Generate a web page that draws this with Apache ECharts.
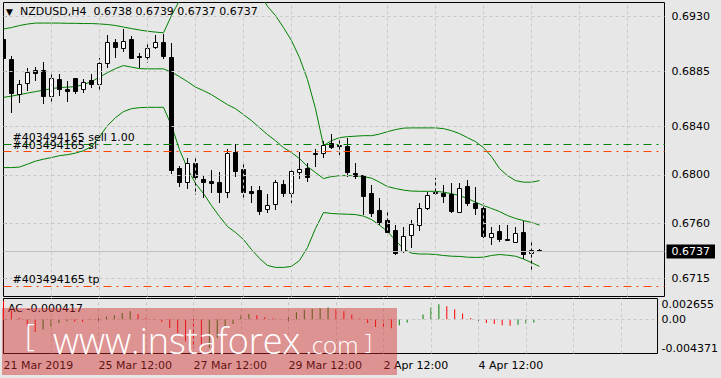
<!DOCTYPE html>
<html><head><meta charset="utf-8">
<script src="https://cdn.jsdelivr.net/npm/echarts@6/dist/echarts.min.js"></script>
<style>html,body{margin:0;padding:0;background:#e7e7e7}#c{width:721px;height:378px}</style>
</head><body><div id="c"></div><script>
// ---- data ----
const symbolName = 'NZDUSD,H4';
const lastOHLC = ['0.6738', '0.6739', '0.6737', '0.6737'];
const timeLabels = ['21 Mar 2019', '25 Mar 12:00', '27 Mar 12:00', '29 Mar 12:00', '2 Apr 12:00', '4 Apr 12:00'];
const timeLabelBars = [0, 12, 24, 36, 48, 60];
const gridBars = [6, 12, 18, 24, 30, 36, 42, 48, 54, 60, 66, 72, 78];
const priceTicks = [0.6930, 0.6885, 0.6840, 0.6800, 0.6760, 0.6715];
const priceMin = 0.6700, priceMax = 0.69415;
const barsMax = 82.625;
const bidPrice = 0.6737;
const orderTicket = '#403494165';
const orderNames = ['sell 1.00', 'sl', 'tp'];
const orderPrices = [0.68254, 0.68191, 0.67088];

const open = [
0.69110,0.68946,0.68658,0.68749,0.68856,0.68856,0.68642,0.68782,0.68699,0.68790,
0.68699,0.68773,0.68741,0.68913,0.69086,0.69036,0.69110,0.68971,0.68962,0.69045,
0.69086,0.68962,0.68051,0.67936,0.68092,0.67960,0.67944,0.67936,0.67854,0.68182,
0.68042,0.67862,0.67870,0.67714,0.67755,0.67919,0.67846,0.68018,0.68051,0.68174,
0.68174,0.68256,0.68239,0.68231,0.68010,0.67993,0.67846,0.67706,0.67624,0.67542,
0.67370,0.67501,0.67583,0.67723,0.67854,0.67846,0.67837,0.67690,0.67903,0.67764,
0.67723,0.67485,0.67534,0.67468,0.67444,0.67526,0.67354,0.67380];
const high = [
0.69119,0.68979,0.68782,0.68880,0.68888,0.68930,0.68839,0.68831,0.68773,0.68790,
0.68790,0.68831,0.68962,0.69152,0.69119,0.69201,0.69143,0.69004,0.69086,0.69152,
0.69160,0.69086,0.68075,0.68141,0.68141,0.67993,0.68042,0.68026,0.68215,0.68256,
0.68092,0.67911,0.67911,0.67846,0.67960,0.67960,0.68051,0.68190,0.68100,0.68215,
0.68280,0.68338,0.68305,0.68305,0.68100,0.67993,0.67919,0.67805,0.67714,0.67591,
0.67567,0.67632,0.67772,0.67862,0.67977,0.67919,0.67936,0.67936,0.67960,0.67903,
0.67764,0.67575,0.67591,0.67591,0.67567,0.67624,0.67460,0.67390];
const low = [
0.68839,0.68510,0.68593,0.68691,0.68773,0.68584,0.68593,0.68650,0.68601,0.68667,
0.68675,0.68716,0.68683,0.68880,0.68962,0.69012,0.68954,0.68880,0.68921,0.69036,
0.68954,0.68010,0.67903,0.67887,0.67837,0.67813,0.67854,0.67764,0.67813,0.67985,
0.67813,0.67764,0.67673,0.67690,0.67714,0.67821,0.67772,0.67969,0.67944,0.68067,
0.68141,0.68215,0.68165,0.67985,0.67969,0.67673,0.67657,0.67591,0.67518,0.67345,
0.67354,0.67395,0.67534,0.67714,0.67837,0.67764,0.67682,0.67682,0.67747,0.67673,
0.67477,0.67427,0.67444,0.67452,0.67436,0.67304,0.67206,0.67370];
const close = [
0.68954,0.68667,0.68741,0.68839,0.68831,0.68642,0.68790,0.68699,0.68683,0.68683,
0.68757,0.68741,0.68913,0.69086,0.69045,0.69094,0.68954,0.68962,0.69036,0.69086,
0.68971,0.68034,0.67936,0.68092,0.67977,0.67936,0.67928,0.67854,0.68174,0.68026,
0.67854,0.67846,0.67698,0.67747,0.67936,0.67846,0.68026,0.68042,0.67977,0.68165,
0.68239,0.68223,0.68231,0.68018,0.67985,0.67821,0.67682,0.67608,0.67526,0.67354,
0.67493,0.67591,0.67723,0.67829,0.67846,0.67821,0.67698,0.67887,0.67764,0.67723,
0.67493,0.67518,0.67468,0.67460,0.67518,0.67345,0.67380,0.67370];

const bbUpper = [
0.69198,0.69209,0.69226,0.69238,0.69246,0.69246,0.69246,0.69246,0.69244,0.69244,
0.69242,0.69242,0.69239,0.69234,0.69226,0.69213,0.69201,0.69189,0.69179,0.69172,
0.69166,0.69308,0.69431,0.69480,0.69521,0.69546,0.69571,0.69579,0.69587,0.69579,
0.69563,0.69530,0.69497,0.69382,0.69308,0.69209,0.69102,0.68962,0.68782,0.68543,
0.68239,0.68280,0.68305,0.68313,0.68317,0.68321,0.68321,0.68334,0.68354,0.68371,
0.68383,0.68385,0.68385,0.68385,0.68385,0.68379,0.68362,0.68338,0.68305,0.68272,
0.68223,0.68149,0.68051,0.67993,0.67952,0.67939,0.67939,0.67952];
const bbMiddle = [
0.68636,0.68646,0.68658,0.68671,0.68683,0.68695,0.68708,0.68716,0.68720,0.68724,
0.68741,0.68765,0.68802,0.68839,0.68872,0.68897,0.68884,0.68872,0.68870,0.68870,
0.68870,0.68843,0.68806,0.68765,0.68720,0.68691,0.68658,0.68617,0.68576,0.68543,
0.68494,0.68445,0.68387,0.68330,0.68280,0.68223,0.68182,0.68133,0.68067,0.68018,
0.67969,0.67985,0.67993,0.67993,0.67993,0.67985,0.67972,0.67939,0.67903,0.67887,
0.67874,0.67866,0.67864,0.67864,0.67864,0.67857,0.67845,0.67829,0.67805,0.67775,
0.67747,0.67723,0.67698,0.67665,0.67641,0.67624,0.67608,0.67587];
const bbLower = [
0.68059,0.68059,0.68063,0.68087,0.68112,0.68128,0.68141,0.68157,0.68165,0.68178,
0.68198,0.68231,0.68313,0.68404,0.68469,0.68519,0.68543,0.68551,0.68554,0.68554,
0.68554,0.68404,0.68206,0.68051,0.67928,0.67846,0.67747,0.67657,0.67575,0.67526,
0.67468,0.67386,0.67313,0.67255,0.67239,0.67239,0.67247,0.67296,0.67403,0.67559,
0.67690,0.67682,0.67678,0.67676,0.67673,0.67660,0.67632,0.67586,0.67534,0.67460,
0.67392,0.67356,0.67349,0.67349,0.67345,0.67337,0.67331,0.67329,0.67323,0.67321,
0.67323,0.67337,0.67345,0.67339,0.67331,0.67308,0.67278,0.67247];

const acValues = [
0.00238,0.00112,0.00017,-0.00090,-0.00163,-0.00132,-0.00090,-0.00048,-0.00026,-0.00030,
-0.00035,-0.00013,0.00013,0.00035,0.00051,0.00081,0.00103,0.00068,0.00017,-0.00009,
-0.00035,-0.00112,-0.00176,-0.00283,-0.00369,-0.004371,-0.00368,-0.00240,-0.00112,-0.00060,
0.00051,0.00068,0.00051,0.00026,0.00009,-0.00006,0.00032,0.00090,0.00122,0.00132,
0.00141,0.00150,0.00129,0.00103,0.00060,0.00009,-0.00048,-0.00099,-0.00112,-0.00116,
-0.00077,-0.00042,0.00004,0.00060,0.00150,0.00193,0.00167,0.00129,0.00073,0.00017,
-0.00013,-0.00048,-0.00060,-0.00077,-0.00084,-0.00071,-0.00055,-0.000417];
const acMin = -0.004371, acMax = 0.002655;
const acTickValues = [acMax, 0, acMin];
const acTickLabels = ['0.002655', '0.00', '-0.004371'];
const acLabel = 'AC -0.000417';

// ---- chart ----
const FONT = 'DejaVu Sans';
const NB = '\u00a0';
const chart = echarts.init(document.getElementById('c'), null, {renderer: 'svg'});

const candleData = open.map((o, i) => [i, o, high[i], low[i], close[i]]);
const bandLine = (arr) => ({
  type: 'line', xAxisIndex: 0, yAxisIndex: 0, z: 2, silent: true,
  data: arr.map((v, i) => [i, v]), showSymbol: false, symbol: 'none', clip: true,
  lineStyle: {color: '#008000', width: 1}
});
const gridLineStyle = {color: '#c8c8c8', type: [3, 3], width: 1};

const option = {
  animation: false,
  backgroundColor: '#e7e7e7',
  textStyle: {fontFamily: FONT},
  title: [
    {left: 6, top: 6, padding: 0,
     text: '{tri|▼}' + NB + NB + symbolName + NB + NB + lastOHLC.join(NB),
     textStyle: {fontSize: 11, fontWeight: 'normal', color: '#000', fontFamily: FONT,
       rich: {tri: {fontSize: 9, color: '#000', fontFamily: FONT}}}},
    {left: 8, top: 303, padding: 0, text: acLabel,
     textStyle: {fontSize: 11, fontWeight: 'normal', color: '#000', fontFamily: FONT}}
  ],
  grid: [
    {left: 3.5, top: 2.5, width: 661, height: 294, show: true, borderColor: '#000', borderWidth: 1, backgroundColor: 'transparent'},
    {left: 3.5, top: 298.5, width: 661, height: 55, show: true, borderColor: '#000', borderWidth: 1, backgroundColor: 'transparent'}
  ],
  xAxis: [
    {gridIndex: 0, type: 'value', min: 0, max: barsMax, show: false},
    {gridIndex: 1, type: 'value', min: 0, max: barsMax, position: 'bottom',
     axisLine: {show: false},
     axisTick: {show: true, length: 3, customValues: timeLabelBars, lineStyle: {color: '#000'}},
     axisLabel: {customValues: timeLabelBars, formatter: v => timeLabels[timeLabelBars.indexOf(v)] || '',
       align: 'left', margin: 6, color: '#000', fontSize: 11, fontFamily: FONT},
     splitLine: {show: false}}
  ],
  yAxis: [
    {gridIndex: 0, type: 'value', min: priceMin, max: priceMax, position: 'right',
     axisLine: {show: false},
     axisTick: {show: true, length: 3, customValues: priceTicks, lineStyle: {color: '#000'}},
     axisLabel: {customValues: priceTicks, formatter: v => v.toFixed(4), margin: 7,
       color: '#000', fontSize: 11, fontFamily: FONT},
     splitLine: {show: false}},
    {gridIndex: 0, type: 'value', min: priceMin, max: priceMax, position: 'right',
     axisLine: {show: false}, axisTick: {show: false}, splitLine: {show: false},
     axisLabel: {customValues: [bidPrice], formatter: v => v.toFixed(4), margin: 2,
       color: '#fff', backgroundColor: '#000', padding: [2, 5, 1, 5], fontSize: 11, fontFamily: FONT}},
    {gridIndex: 1, type: 'value', min: acMin, max: acMax, position: 'right',
     axisLine: {show: false},
     axisTick: {show: true, length: 3, customValues: acTickValues, lineStyle: {color: '#000'}},
     axisLabel: {customValues: acTickValues,
       formatter: v => acTickLabels[acTickValues.indexOf(v)] || '',
       margin: 4, color: '#000', fontSize: 11, fontFamily: FONT,
       verticalAlignMaxLabel: 'bottom', verticalAlignMinLabel: 'top'},
     splitLine: {show: false}}
  ],
  series: [
    // main grid lines
    {type: 'line', xAxisIndex: 0, yAxisIndex: 0, data: [], z: 1, silent: true,
     markLine: {silent: true, symbol: 'none', precision: 6, animation: false, label: {show: false},
       emphasis: {disabled: true}, lineStyle: gridLineStyle,
       data: gridBars.map(b => ({xAxis: b})).concat(priceTicks.map(p => ({yAxis: p})))}},
    // bid line
    {type: 'line', xAxisIndex: 0, yAxisIndex: 0, data: [], z: 1, silent: true,
     markLine: {silent: true, symbol: 'none', precision: 6, animation: false, label: {show: false},
       emphasis: {disabled: true}, lineStyle: {color: '#c0c0c0', type: 'solid', width: 1},
       data: [{yAxis: bidPrice}]}},
    // order lines
    {type: 'line', xAxisIndex: 0, yAxisIndex: 0, data: [], z: 2, silent: true,
     markLine: {silent: true, symbol: 'none', precision: 6, animation: false, emphasis: {disabled: true},
       label: {show: true, position: 'insideStartTop', distance: [9, 1], color: '#000',
         fontSize: 11, fontFamily: FONT},
       data: orderPrices.map((p, i) => ({
         yAxis: p,
         label: {formatter: orderTicket + ' ' + orderNames[i]},
         lineStyle: {color: i === 0 ? '#008000' : '#ff4500', type: [8, 5, 2, 5], width: 1}
       }))}},
    bandLine(bbUpper),
    bandLine(bbMiddle),
    bandLine(bbLower),
    // candles
    {type: 'custom', xAxisIndex: 0, yAxisIndex: 0, z: 3, silent: true, clip: true,
     data: candleData, encode: {x: 0, y: [1, 2, 3, 4]},
     renderItem: function (params, api) {
       const x = api.value(0), o = api.value(1), h = api.value(2), l = api.value(3), c = api.value(4);
       const pO = api.coord([x, o]), pC = api.coord([x, c]);
       const pH = api.coord([x, h]), pL = api.coord([x, l]);
       const cx = Math.round(pO[0] - 0.5) + 0.5;
       let top = Math.round(Math.min(pO[1], pC[1]) - 0.5) + 0.5;
       let bot = Math.round(Math.max(pO[1], pC[1]) - 0.5) + 0.5;
       if (bot - top < 1) bot = top + 1;
       const up = c > o;
       return {type: 'group', children: [
         {type: 'line', shape: {x1: cx, y1: Math.round(pH[1]), x2: cx, y2: Math.round(pL[1])},
          style: {stroke: '#000', lineWidth: 1}},
         {type: 'rect', shape: {x: cx - 2, y: top, width: 4, height: bot - top},
          style: {fill: up ? '#fff' : '#000', stroke: '#000', lineWidth: 1}}
       ]};
     }},
    // AC grid lines
    {type: 'line', xAxisIndex: 1, yAxisIndex: 2, data: [], z: 1, silent: true,
     markLine: {silent: true, symbol: 'none', precision: 6, animation: false, label: {show: false},
       emphasis: {disabled: true}, lineStyle: gridLineStyle,
       data: gridBars.map(b => ({xAxis: b})).concat([{yAxis: 0}])}},
    // AC histogram
    {type: 'bar', xAxisIndex: 1, yAxisIndex: 2, barWidth: 1, z: 2, silent: true,
     data: acValues.map((v, i) => ({
       value: [i, v],
       itemStyle: {color: (i > 0 && v > acValues[i - 1]) ? '#008000' : '#ff0000'}
     }))}
  ],
  graphic: [
    {type: 'rect', z: 100, silent: true, shape: {x: 2, y: 308, width: 395, height: 67},
     style: {fill: 'rgba(210,45,45,0.45)'}},
    {type: 'text', z: 101, silent: true, x: 25, y: 334,
     style: {text: '[', fill: '#fff', font: '300 31px "Open Sans"', verticalAlign: 'middle'}},
    {type: 'text', z: 101, silent: true, x: 53, y: 340,
     style: {text: 'www.instaforex', fill: '#fff', font: '300 36px "Open Sans"', verticalAlign: 'middle'}},
    {type: 'text', z: 101, silent: true, x: 306, y: 344,
     style: {text: '.com', fill: '#fff', font: '300 24px "Open Sans"', verticalAlign: 'middle'}},
    {type: 'text', z: 101, silent: true, x: 365, y: 341,
     style: {text: ']', fill: '#fff', font: '300 22px "Open Sans"', verticalAlign: 'middle'}}
  ]
};
chart.setOption(option);
</script></body></html>
